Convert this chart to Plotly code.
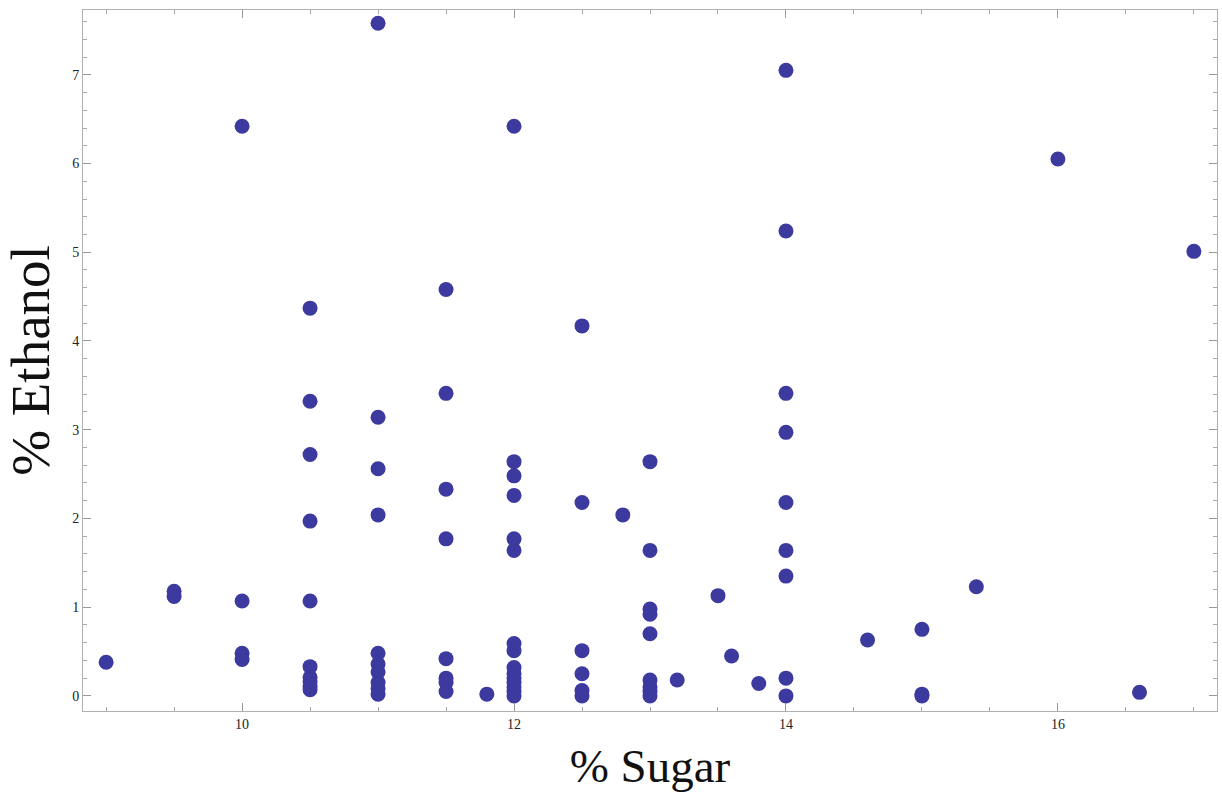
import plotly.graph_objects as go

sugar = [9.0,
         9.5, 9.5,
         10, 10, 10, 10,
         10.5, 10.5, 10.5, 10.5, 10.5, 10.5, 10.5, 10.5, 10.5, 10.5,
         11, 11, 11, 11, 11, 11, 11, 11, 11, 11,
         11.5, 11.5, 11.5, 11.5, 11.5, 11.5, 11.5, 11.5,
         11.8,
         12, 12, 12, 12, 12, 12, 12, 12, 12, 12, 12, 12, 12, 12, 12,
         12.5, 12.5, 12.5, 12.5, 12.5, 12.5,
         12.8,
         13, 13, 13, 13, 13, 13, 13, 13, 13,
         13.2, 13.5, 13.6, 13.8,
         14, 14, 14, 14, 14, 14, 14, 14, 14,
         14.6,
         15, 15, 15,
         15.4, 16, 16.6, 17]
ethanol = [0.38,
           1.18, 1.12,
           6.42, 1.07, 0.48, 0.41,
           4.37, 3.32, 2.72, 1.97, 1.07, 0.33, 0.21, 0.16, 0.11, 0.07,
           7.58, 3.14, 2.56, 2.04, 0.48, 0.36, 0.27, 0.15, 0.08, 0.02,
           4.58, 3.41, 2.33, 1.77, 0.42, 0.20, 0.15, 0.05,
           0.02,
           6.42, 2.64, 2.48, 2.26, 1.77, 1.64, 0.59, 0.51, 0.32, 0.25, 0.20, 0.15, 0.10, 0.05, 0.0,
           4.17, 2.18, 0.51, 0.25, 0.06, 0.0,
           2.04,
           2.64, 1.64, 0.98, 0.92, 0.70, 0.18, 0.10, 0.05, 0.0,
           0.18, 1.13, 0.45, 0.14,
           7.05, 5.24, 3.41, 2.97, 2.18, 1.64, 1.35, 0.20, 0.0,
           0.63,
           0.75, 0.02, 0.0,
           1.23, 6.05, 0.04, 5.01]

x_ticks = [10, 12, 14, 16]
y_ticks = [0, 1, 2, 3, 4, 5, 6, 7]

fig = go.Figure(go.Scatter(
    x=sugar, y=ethanol, mode="markers",
    marker=dict(size=15, color="rgb(60,58,158)", line=dict(width=0)),
))

axis_common = dict(
    showgrid=False, zeroline=False, showline=True, linecolor="#b0b0b0", linewidth=1,
    mirror="allticks", ticks="inside", ticklen=8, tickcolor="#999999", tickwidth=1,
    tickfont=dict(family="Liberation Serif", size=14, color="#222222"),
)

fig.update_layout(
    width=1222, height=806,
    margin=dict(l=83, r=5, t=10, b=95),
    paper_bgcolor="white", plot_bgcolor="white",
    showlegend=False,
    xaxis=dict(range=[8.83, 17.17], tickvals=x_ticks, ticktext=[str(v) for v in x_ticks],
               minor=dict(dtick=0.5, tick0=0, ticks="inside", ticklen=4, tickcolor="#aaaaaa"),
               title=dict(text="% Sugar", font=dict(family="Liberation Serif", size=47, color="#111111"),
                          standoff=18),
               **axis_common),
    yaxis=dict(range=[-0.17, 7.73], tickvals=y_ticks, ticktext=[str(v) for v in y_ticks],
               minor=dict(dtick=0.2, tick0=0, ticks="inside", ticklen=4, tickcolor="#aaaaaa"),
               title=dict(text="% Ethanol", font=dict(family="Liberation Serif", size=55, color="#111111"),
                          standoff=8),
               **axis_common),
)

fig.write_html("out.html")
